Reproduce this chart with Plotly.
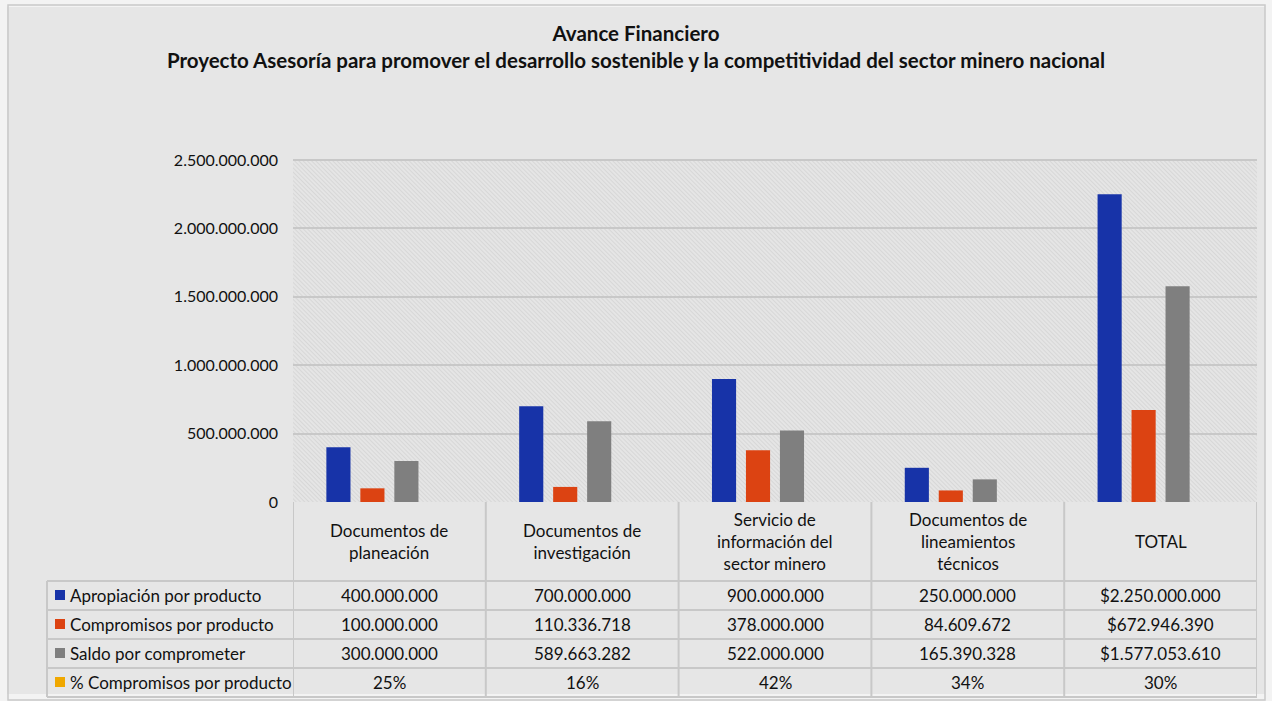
import base64
import plotly.graph_objects as go

categorias = ["Documentos de<br>planeación", "Documentos de<br>investigación",
              "Servicio de<br>información del<br>sector minero",
              "Documentos de<br>lineamientos<br>técnicos", "TOTAL"]
apropiacion = [400000000, 700000000, 900000000, 250000000, 2250000000]
compromisos = [100000000, 110336718, 378000000, 84609672, 672946390]
saldo = [300000000, 589663282, 522000000, 165390328, 1577053610]
pct_compromisos = [0.25, 0.16, 0.42, 0.34, 0.30]

series = ["Apropiación por producto", "Compromisos por producto",
          "Saldo por comprometer", "% Compromisos por producto"]
colores = ["#1733a8", "#dc4312", "#7f7f7f", "#f0a800"]

FONT = "Lato"
W_FIG, H_FIG = 1272, 701
L, R, T, B = 293, 1257, 160, 502


def fx(px):
    return (px - L) / (R - L)


def fy(py):
    return (B - py) / (B - T)


def miles(v, total=False):
    s = f"{v:,}".replace(",", ".")
    return "$" + s if total else s


x_idx = list(range(len(categorias)))

fig = go.Figure()
for nombre, vals, col in zip(series, [apropiacion, compromisos, saldo, pct_compromisos], colores):
    fig.add_trace(go.Bar(x=x_idx, y=vals, name=nombre, marker_color=col,
                         marker_line_width=0, showlegend=False))

# hatched plot background
svg = ("<svg xmlns='http://www.w3.org/2000/svg' width='964' height='342'>"
       "<defs><pattern id='p' width='3' height='3' patternUnits='userSpaceOnUse' "
       "patternTransform='rotate(-45)'><rect width='3' height='3' fill='#e5e5e5'/>"
       "<line x1='0' y1='0' x2='0' y2='3' stroke='#cecece' stroke-width='1.2'/></pattern></defs>"
       "<rect width='100%' height='100%' fill='url(#p)'/></svg>")
uri = "data:image/svg+xml;base64," + base64.b64encode(svg.encode()).decode()

shapes = []
# outer frame
shapes.append(dict(type="rect", xref="paper", yref="paper", x0=fx(0), x1=fx(W_FIG),
                   y0=fy(0), y1=fy(H_FIG), line=dict(color="#f3f3f3", width=14)))
shapes.append(dict(type="rect", xref="paper", yref="paper", x0=fx(8), x1=fx(1265),
                   y0=fy(5), y1=fy(700), line=dict(color="#c9c9c9", width=1.5)))

grid = dict(color="#c8c8c8", width=2)
# table horizontal lines
for py in [581, 610, 639, 668, 697]:
    shapes.append(dict(type="line", xref="paper", yref="paper", x0=fx(47), x1=fx(R),
                       y0=fy(py), y1=fy(py), line=grid))
# table vertical lines
shapes.append(dict(type="line", xref="paper", yref="paper", x0=fx(47), x1=fx(47),
                   y0=fy(581), y1=fy(697), line=grid))
for i in range(len(categorias) + 1):
    shapes.append(dict(type="line", xref="x", yref="paper", x0=i - 0.5, x1=i - 0.5,
                       y0=fy(B), y1=fy(697), line=grid))
shapes.append(dict(type="line", xref="paper", yref="paper", x0=0, x1=1,
                   y0=1, y1=1, line=grid))

TXT = 17
annotations = []
row_y = [595, 624, 653, 682]
for nombre, col, py in zip(series, colores, row_y):
    shapes.append(dict(type="rect", xref="paper", yref="paper", x0=fx(55), x1=fx(65),
                       y0=fy(py - 5), y1=fy(py + 5), fillcolor=col, line_width=0))
    annotations.append(dict(text=nombre, xref="paper", yref="paper", x=fx(68), y=fy(py),
                            xanchor="left", yanchor="middle", showarrow=False,
                            font=dict(size=TXT, color="#111111", family=FONT)))

for i, cat in enumerate(categorias):
    total = cat == "TOTAL"
    annotations.append(dict(text=cat, xref="x", yref="paper", x=i, y=fy(541),
                            xanchor="center", yanchor="middle", showarrow=False,
                            font=dict(size=TXT, color="#111111", family=FONT)))
    celdas = [miles(apropiacion[i], total), miles(compromisos[i], total),
              miles(saldo[i], total), f"{round(pct_compromisos[i] * 100)}%"]
    for txt, py in zip(celdas, row_y):
        annotations.append(dict(text=txt, xref="x", yref="paper", x=i, y=fy(py),
                                xanchor="center", yanchor="middle", showarrow=False,
                                font=dict(size=TXT, color="#111111", family=FONT)))

fig.update_layout(
    width=W_FIG, height=H_FIG,
    margin=dict(l=L, r=W_FIG - R, t=T, b=H_FIG - B),
    paper_bgcolor="#e6e6e6",
    plot_bgcolor="rgba(0,0,0,0)",
    separators=",.",
    title=dict(text="<b>Avance Financiero<br>Proyecto Asesoría para promover el desarrollo "
                    "sostenible y la competitividad del sector minero nacional</b>",
               x=0.5, xref="container", xanchor="center", y=0.941, yanchor="top",
               font=dict(size=20.5, color="#111111", family=FONT)),
    font=dict(family=FONT, color="#111111"),
    barmode="group", bargap=0.295, bargroupgap=0.29,
    xaxis=dict(range=[-0.5, len(categorias) - 0.5], showticklabels=False,
               showgrid=False, zeroline=False, ticks=""),
    yaxis=dict(range=[0, 2500000000], dtick=500000000, tickformat=",d",
               gridcolor="#c8c8c8", gridwidth=2, zeroline=False,
               ticklabelstandoff=14, tickfont=dict(size=16, family=FONT, color="#111111")),
    shapes=shapes,
    annotations=annotations,
    images=[dict(source=uri, xref="paper", yref="paper", x=0, y=1, sizex=1, sizey=1,
                 sizing="stretch", xanchor="left", yanchor="top", layer="below")],
)

fig.write_html("out.html", config={"displayModeBar": False},
               post_script="document.body.style.margin='0';")
